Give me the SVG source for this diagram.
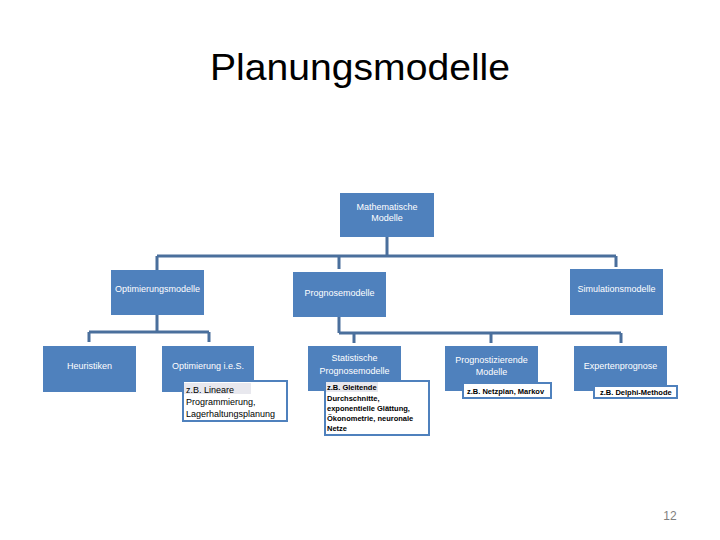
<svg xmlns="http://www.w3.org/2000/svg" width="720" height="540" viewBox="0 0 720 540">
<style>
.box{fill:#4f81bd;}
.note{fill:#ffffff;stroke:#4f81bd;stroke-width:2;}
.bt{font-family:"Liberation Sans",Arial,sans-serif;font-size:9px;fill:#ffffff;text-anchor:middle;}
.nt{font-family:"Liberation Sans",Arial,sans-serif;font-size:9px;fill:#000000;}
.ns{font-family:"Liberation Sans",Arial,sans-serif;font-size:7.5px;fill:#000000;font-weight:bold;}
.conn{fill:none;stroke:#4a6f9c;stroke-width:3;}
</style>
<rect x="0" y="0" width="720" height="540" fill="#ffffff"/>
<text x="360" y="80" font-family="Liberation Sans, Arial, sans-serif" font-size="37" text-anchor="middle" textLength="300" lengthAdjust="spacingAndGlyphs" fill="#000000">Planungsmodelle</text>
<g id="connectors">
<path class="conn" d="M387,237 V256 M157,256 H616 M157,256 V270 M339,256 V269 M616,256 V267"/>
<path class="conn" d="M157,315 V332 M89,332 H209 M89,332 V342 M209,332 V342"/>
<path class="conn" d="M339,317 V333 M339,333 H621 M354,333 V343 M491,333 V343 M621,333 V343"/>
</g>
<g id="mathematische"><rect class="box" x="340" y="193" width="94" height="44"/><text class="bt" x="387" y="210">Mathematische</text><text class="bt" x="387" y="221">Modelle</text></g>
<g id="optimierungsmodelle"><rect class="box" x="111" y="270" width="93" height="45"/><text class="bt" x="157.5" y="292">Optimierungsmodelle</text></g>
<g id="prognosemodelle"><rect class="box" x="293" y="272" width="93" height="45"/><text class="bt" x="339.5" y="296">Prognosemodelle</text></g>
<g id="simulationsmodelle"><rect class="box" x="570" y="269" width="93" height="46"/><text class="bt" x="616.5" y="292">Simulationsmodelle</text></g>
<g id="heuristiken"><rect class="box" x="43" y="346" width="93" height="46"/><text class="bt" x="89.5" y="369">Heuristiken</text></g>
<g id="optimierung-ies"><rect class="box" x="162" y="346" width="92" height="46"/><text class="bt" x="208" y="369">Optimierung i.e.S.</text></g>
<g id="optimierung-ies-note"><rect class="note" x="183" y="381" width="104" height="40"/><rect x="184" y="383" width="67" height="11" fill="#e8e8ee"/><text class="nt" x="186" y="393">z.B. Lineare</text><text class="nt" x="186" y="405">Programmierung,</text><text class="nt" x="186" y="417">Lagerhaltungsplanung</text></g>
<g id="statistische"><rect class="box" x="308" y="346" width="93" height="45"/><text class="bt" x="354.5" y="361">Statistische</text><text class="bt" x="354.5" y="374">Prognosemodelle</text></g>
<g id="statistische-note"><rect class="note" x="325" y="381" width="104" height="54"/><rect x="326" y="382" width="52" height="10" fill="#e8e8ee"/><text class="ns" x="327" y="390" font-weight="normal">z.B. Gleitende</text><text class="ns" x="327" y="401" font-weight="normal">Durchschnitte,</text><text class="ns" x="327" y="411" font-weight="normal">exponentielle Glättung,</text><text class="ns" x="327" y="421" font-weight="normal">Ökonometrie, neuronale</text><text class="ns" x="327" y="431" font-weight="normal">Netze</text></g>
<g id="prognostizierende"><rect class="box" x="445" y="346" width="93" height="45"/><text class="bt" x="491.5" y="363">Prognostizierende</text><text class="bt" x="491.5" y="375">Modelle</text></g>
<g id="prognostizierende-note"><rect class="note" x="463" y="383" width="88" height="15"/><text class="ns" x="467" y="394">z.B. Netzplan, Markov</text></g>
<g id="expertenprognose"><rect class="box" x="574" y="346" width="93" height="45"/><text class="bt" x="620.5" y="369">Expertenprognose</text></g>
<g id="expertenprognose-note"><rect class="note" x="594" y="386" width="83" height="12"/><text class="ns" x="600" y="395">z.B. Delphi-Methode</text></g>
<text x="670" y="520" font-family="Liberation Sans, Arial, sans-serif" font-size="12" fill="#7f7f7f" text-anchor="middle">12</text>
</svg>
